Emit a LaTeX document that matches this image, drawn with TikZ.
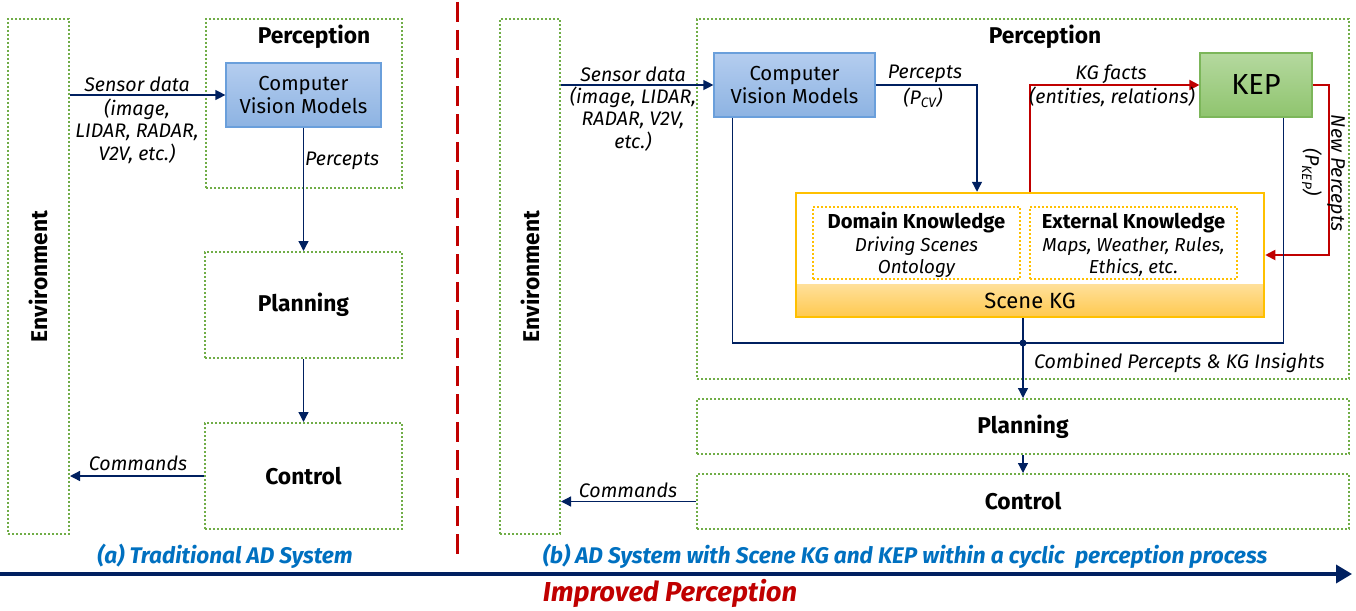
\documentclass[tikz,border=0pt]{standalone}
\usepackage{fontspec}
\setmainfont{Fira Sans}
\usetikzlibrary{arrows.meta}

\definecolor{stagegreen}{HTML}{70AD47}
\definecolor{navy}{HTML}{002060}
\definecolor{cvborder}{HTML}{6A9FDB}
\definecolor{cvtop}{HTML}{B4CDEF}
\definecolor{cvbot}{HTML}{8DB3E2}
\definecolor{kepborder}{HTML}{7CB65A}
\definecolor{keptop}{HTML}{B5D99F}
\definecolor{kepbot}{HTML}{8FC46E}
\definecolor{kggold}{HTML}{FFC000}
\definecolor{bandtop}{HTML}{FFE09A}
\definecolor{bandbot}{HTML}{FFC94F}
\definecolor{darkred}{HTML}{C00000}
\definecolor{capblue}{HTML}{0070C0}

\begin{document}
\begin{tikzpicture}[x=1pt,y=-1pt,
    stage/.style={draw=stagegreen,line width=2pt,dash pattern=on 2pt off 2pt,inner sep=0pt},
    title/.style={font=\fontsize{22.8}{27}\selectfont\bfseries,inner sep=0pt},
    lbl/.style={font=\fontsize{19.6}{22.5}\selectfont\itshape,align=center,inner sep=0pt},
    cvbox/.style={draw=cvborder,line width=1.2pt,top color=cvtop,bottom color=cvbot,
        align=center,inner sep=0pt,font=\fontsize{20.3}{23.5}\selectfont},
    kgpart/.style={draw=kggold,line width=2pt,dash pattern=on 2pt off 2pt,inner sep=0pt,
        minimum width=207,minimum height=72},
    partlbl/.style={font=\fontsize{18.8}{22}\selectfont\itshape,align=center,inner sep=0pt},
    barrow/.style={navy,line width=1.3pt,-{Triangle[length=10pt,width=10pt]}},
    bline/.style={navy,line width=1.3pt},
    rarrow/.style={darkred,line width=1.8pt,-{Triangle[length=10pt,width=10pt]}},
    caption/.style={font=\fontsize{22.6}{26}\selectfont\bfseries\itshape,text=capblue,inner sep=0pt}]

    \useasboundingbox (0,0) rectangle (1356,610);

    % (a) traditional system
    \node[stage,minimum width=61,minimum height=515] (envL) at (38.5,276.5) {};
    \node[title,rotate=90] (envLtxt) at (envL.center) {Environment};
    \node[stage,minimum width=196,minimum height=169] (percL) at (304,103.5) {};
    \node[title] (percLtxt) at (314,37) {Perception};
    \node[cvbox,minimum width=155,minimum height=64] (cvL) at (303.5,95) {Computer\\Vision Models};
    \node[stage,minimum width=197,minimum height=106] (planL) at (303.5,305) {};
    \node[title] (planLtxt) at (planL.center) {Planning};
    \node[stage,minimum width=197,minimum height=106] (ctrlL) at (303.5,476) {};
    \node[title] (ctrlLtxt) at (ctrlL.center) {Control};

    \draw[barrow] (envL.east |- cvL.west) -- (cvL.west);
    \node[lbl] (sensL) at (137,84) {Sensor data};
    \node[lbl] (sensLsub) at (137,131) {(image,\\LIDAR, RADAR,\\V2V, etc.)};
    \draw[barrow] (cvL.south) -- (planL.north);
    \node[lbl,anchor=west] (percsL) at (305,161) {Percepts};
    \draw[barrow] (planL.south) -- (ctrlL.north);
    \draw[barrow] (ctrlL.west) -- (ctrlL.west -| envL.east);
    \node[lbl] (cmdL) at (138,463) {Commands};
    \node[caption] (capA) at (225,556) {(a) Traditional AD System};

    % divider
    \draw[darkred,line width=3pt,dash pattern=on 20pt off 8pt] (457,2) -- (457,558);

    % (b) system with scene KG and KEP
    \node[stage,minimum width=60,minimum height=515] (envR) at (530,276.5) {};
    \node[title,rotate=90] (envRtxt) at (envR.center) {Environment};
    \node[stage,minimum width=652,minimum height=360] (percR) at (1023,199) {};
    \node[title] (percRtxt) at (1045,37) {Perception};
    \node[cvbox,minimum width=161,minimum height=64] (cvR) at (794.5,85) {Computer\\Vision Models};
    \node[draw=kepborder,line width=1.2pt,top color=keptop,bottom color=kepbot,inner sep=0pt,
        minimum width=112,minimum height=64,font=\fontsize{29}{32}\selectfont] (kep) at (1256,85) {KEP};

    % scene KG
    \node[top color=bandtop,bottom color=bandbot,inner sep=0pt,minimum width=468,minimum height=33,
        font=\fontsize{22}{26}\selectfont] (band) at (1030,300.5) {Scene KG};
    \node[draw=kggold,line width=2.5pt,minimum width=468,minimum height=124,inner sep=0pt] (skg) at (1030,255) {};
    \node[kgpart] (domain) at (916.5,243) {};
    \node[title,font=\fontsize{20.2}{24}\selectfont\bfseries] (domainttl) at (916.5,223) {Domain Knowledge};
    \node[partlbl] (domaintxt) at (916.5,257) {Driving Scenes\\Ontology};
    \node[kgpart] (extern) at (1133.5,243) {};
    \node[title,font=\fontsize{20.2}{24}\selectfont\bfseries] (externttl) at (1133.5,223) {External Knowledge};
    \node[partlbl] (externtxt) at (1133.5,257) {Maps, Weather, Rules,\\Ethics, etc.};

    \node[stage,minimum width=652,minimum height=55] (planR) at (1023,426.5) {};
    \node[title] (planRtxt) at (planR.center) {Planning};
    \node[stage,minimum width=652,minimum height=55] (ctrlR) at (1023,501.5) {};
    \node[title] (ctrlRtxt) at (ctrlR.center) {Control};

    \draw[barrow] (envR.east |- cvR.west) -- (cvR.west);
    \node[lbl] (sensR) at (633,74) {Sensor data};
    \node[lbl] (sensRsub) at (633,119) {(image, LIDAR,\\RADAR, V2V,\\etc.)};
    \draw[barrow] (cvR.east) -| ([xshift=-53]skg.north);
    \node[lbl] (percsR) at (925,74) {Percepts};
    \node[lbl] (pcv) at (923,98) {(P\textsubscript{CV})};
    \draw[rarrow] (skg.north) |- (kep.west);
    \node[lbl] (kgfacts) at (1111,74) {KG facts};
    \node[lbl] (kgfactsub) at (1112,97) {(entities, relations)};
    \draw[rarrow] (kep.east) -- ++(16,0) |- (skg.east);
    \node[lbl,rotate=-90] (newp) at (1336,173) {New Percepts};
    \node[lbl,rotate=-90] (pkep) at (1312,172) {(P\textsubscript{KEP})};

    % combined percepts
    \coordinate (join) at (1023,343);
    \draw[bline] ([xshift=19]cvR.south west) |- (join) -| ([xshift=-29]kep.south east);
    \draw[bline] (skg.south -| join) -- (join);
    \fill[navy] (join) circle (3.5);
    \draw[barrow] (join) -- (planR.north);
    \node[lbl,anchor=west] (comb) at (1034,363) {Combined Percepts \& KG Insights};
    \draw[barrow] (planR.south) -- (ctrlR.north);
    \draw[barrow] (ctrlR.west) -- (ctrlR.west -| envR.east);
    \node[lbl] (cmdR) at (628,490) {Commands};
    \node[caption] (capB) at (905,556) {(b) AD System with Scene KG and KEP within a cyclic\ \ perception process};

    % improvement axis
    \coordinate (axisL) at (0,574);
    \coordinate (axisR) at (1352,574);
    \draw[navy,line width=3.5pt,-{Triangle[length=16pt,width=18pt]}] (axisL) -- (axisR);
    \node[font=\fontsize{27.4}{31}\selectfont\bfseries\itshape,text=darkred,inner sep=0pt] (impr) at (670,593) {Improved Perception};
\end{tikzpicture}
\end{document}
